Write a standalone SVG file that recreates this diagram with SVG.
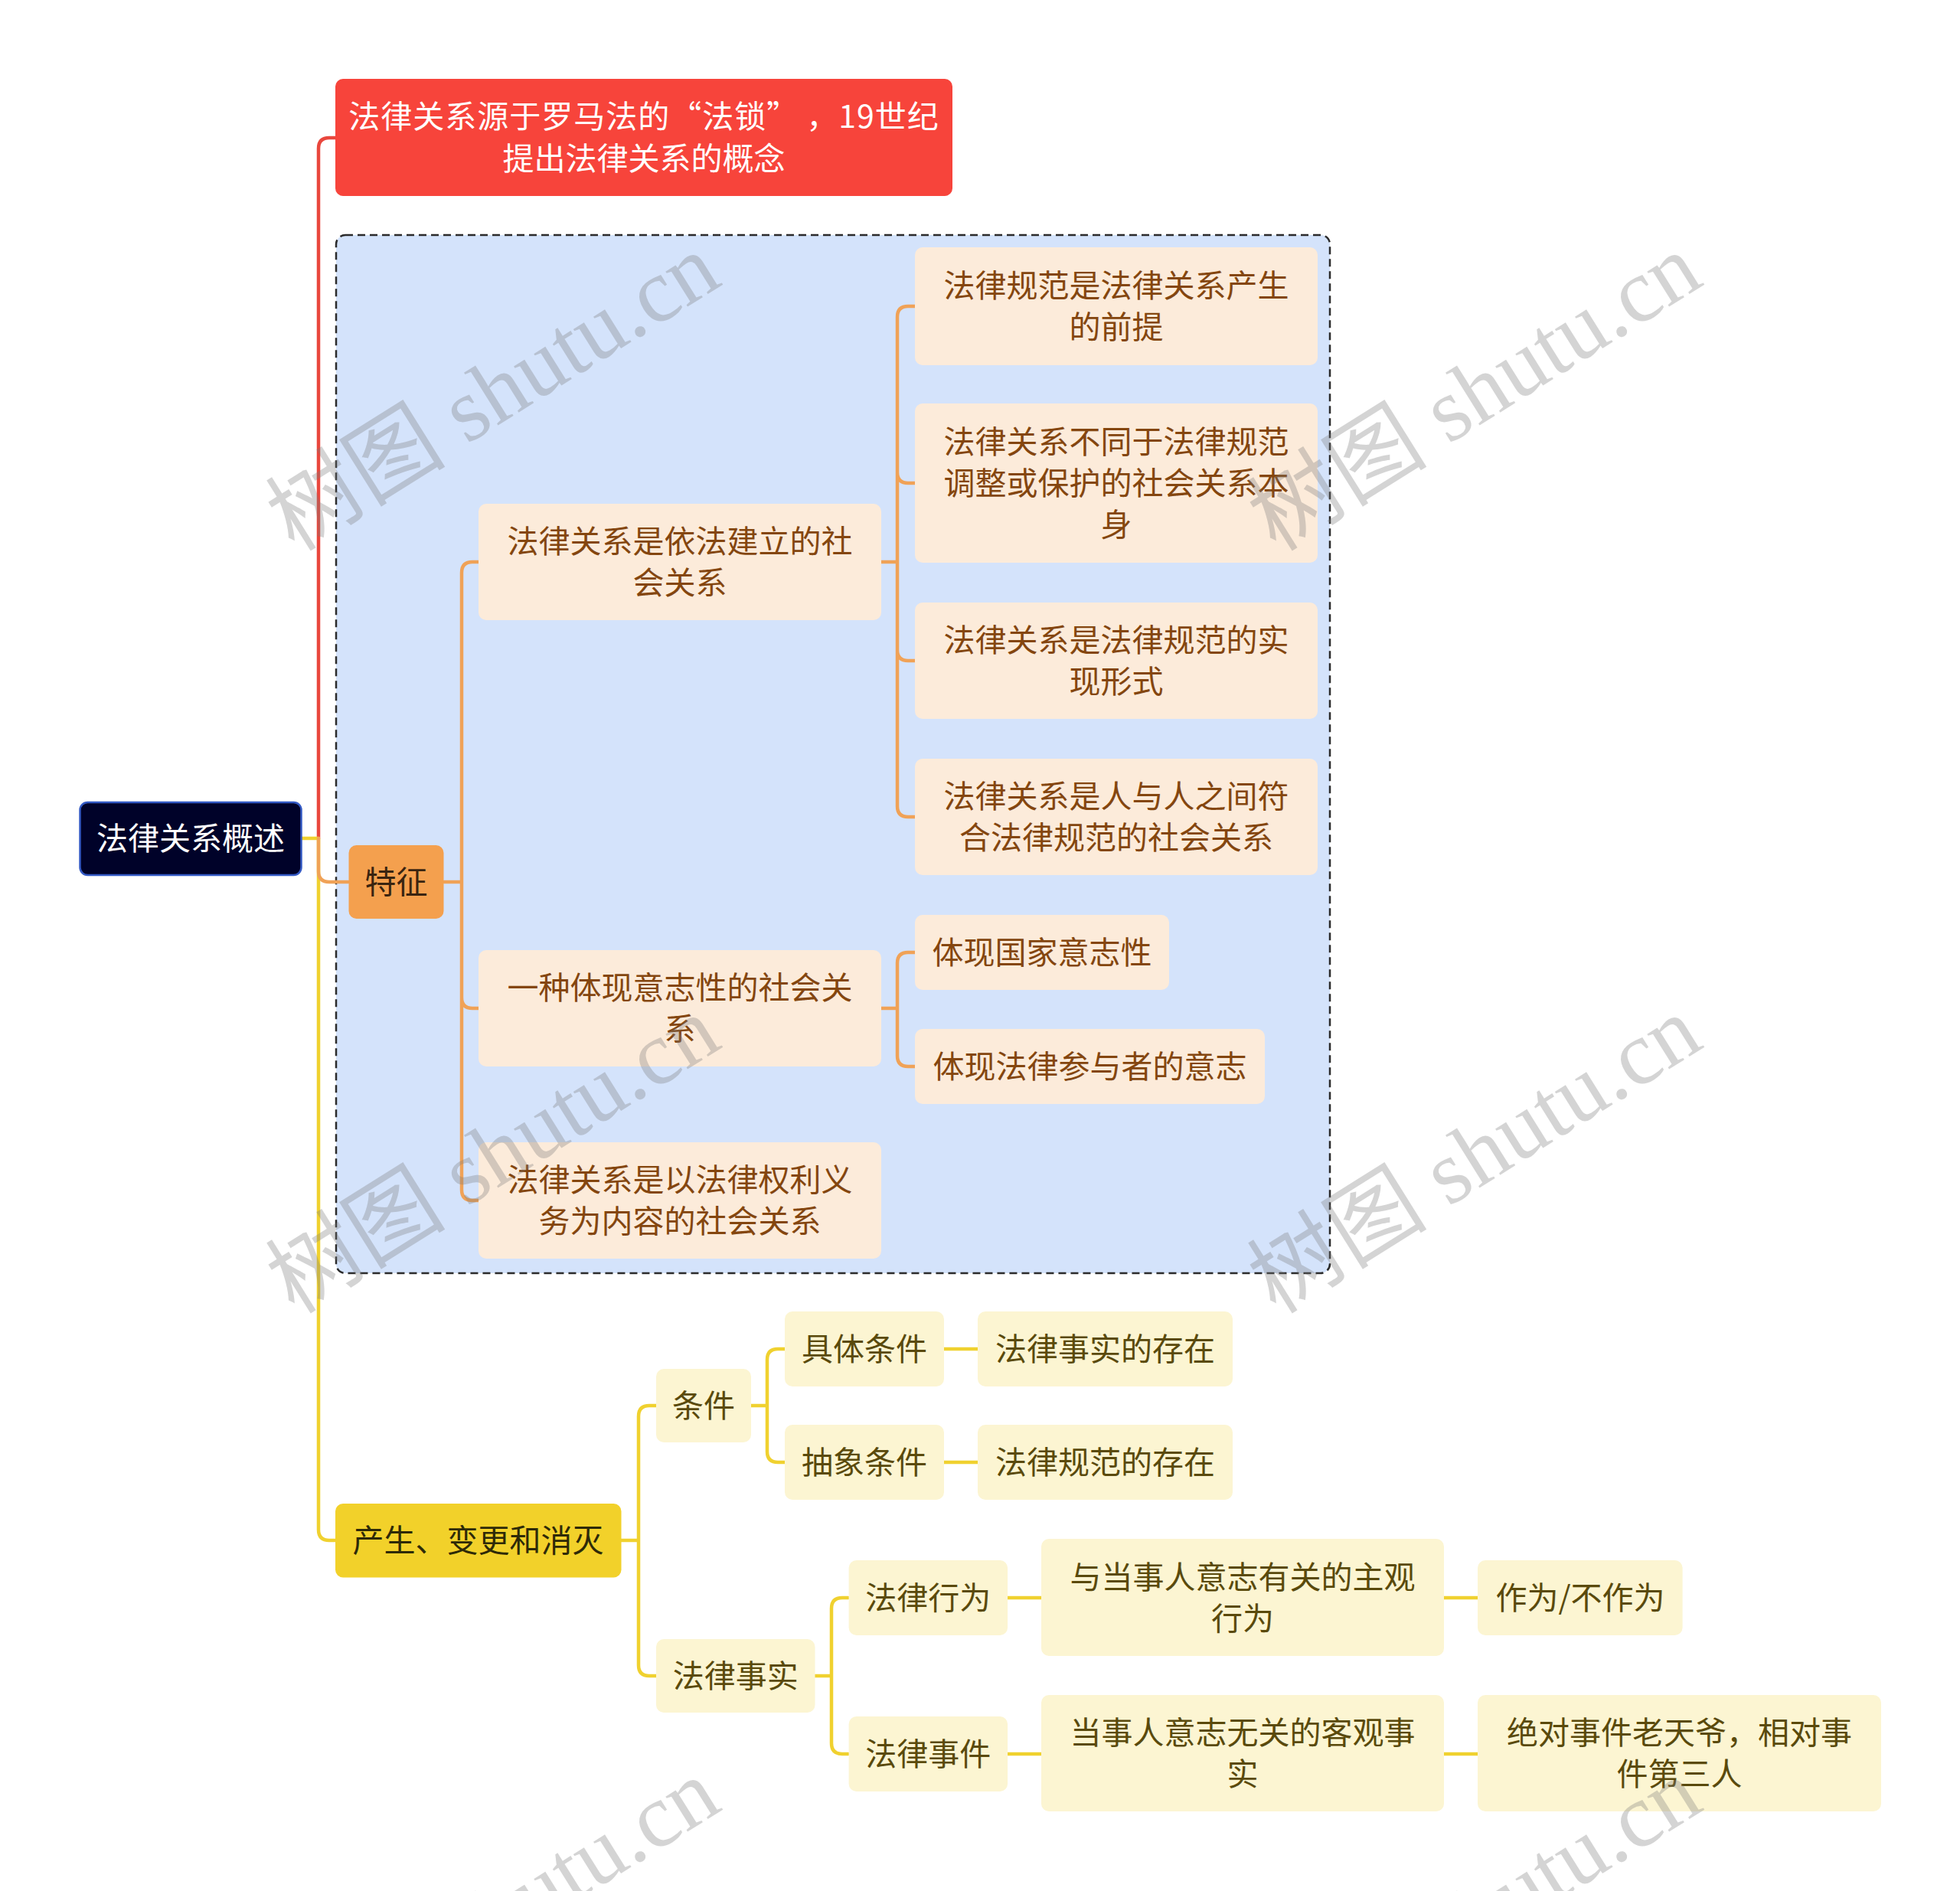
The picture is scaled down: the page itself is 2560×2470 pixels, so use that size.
<svg xmlns="http://www.w3.org/2000/svg" width="2560" height="2470" viewBox="0 0 2560 2470">
<defs>
<style>
.t{font-family:"Noto Sans CJK SC","Liberation Sans",sans-serif;font-size:41px;text-anchor:middle}
.peach{fill:#FCEBDA}
.pt{fill:#84460F}
.pale{fill:#FCF5D2}
.yt{fill:#5A4A0C}
.cn{fill:none;stroke-width:4.5;stroke-linecap:round;stroke-linejoin:round}
.red{stroke:#E9473D}
.org{stroke:#F0A257}
.yel{stroke:#F0D12F}
.wm{font-family:"Liberation Serif","Noto Sans CJK SC",serif;font-size:118px;fill:#7a7a7a;fill-opacity:0.32;text-anchor:middle}
</style>
</defs>
<rect width="2560" height="2470" fill="#ffffff"/>
<g id="group-features">
<rect x="439" y="307" width="1298" height="1356" rx="12" fill="#D4E3FB" stroke="#2b2b2b" stroke-width="2.5" stroke-dasharray="10 6"/>
</g>
<g id="connectors">
<path class="cn red" d="M416,1095 V194 Q416,180 430,180 H438"/>
<path class="cn yel" d="M393,1095 H416 M416,1095 V1998 Q416,2012 430,2012 H438"/>
<path class="cn org" d="M416,1095 V1138 Q416,1152 430,1152 H455"/>
<path class="cn org" d="M580,1152 H603 M603,1152 V748 Q603,734 617,734 H625 M603,1152 V1303 Q603,1317 617,1317 H625 M603,1152 V1554 Q603,1568 617,1568 H625"/>
<path class="cn org" d="M1151,734 H1172 M1172,734 V414 Q1172,400 1186,400 H1195 M1172,734 V617 Q1172,631 1186,631 H1195 M1172,734 V849 Q1172,863 1186,863 H1195 M1172,734 V1053 Q1172,1067 1186,1067 H1195"/>
<path class="cn org" d="M1151,1317 H1172 M1172,1317 V1258 Q1172,1244 1186,1244 H1195 M1172,1317 V1379 Q1172,1393 1186,1393 H1195"/>
<path class="cn yel" d="M811,2012 H834 M834,2012 V1850 Q834,1836 848,1836 H857 M834,2012 V2175 Q834,2189 848,2189 H857"/>
<path class="cn yel" d="M981,1836 H1002 M1002,1836 V1776 Q1002,1762 1016,1762 H1025 M1002,1836 V1896 Q1002,1910 1016,1910 H1025"/>
<path class="cn yel" d="M1233,1762 H1277 M1233,1910 H1277"/>
<path class="cn yel" d="M1064,2189 H1086 M1086,2189 V2101 Q1086,2087 1100,2087 H1108 M1086,2189 V2277 Q1086,2291 1100,2291 H1108"/>
<path class="cn yel" d="M1316,2087 H1360 M1316,2291 H1360 M1886,2087 H1930 M1886,2291 H1930"/>
</g>
<g id="root">
<rect x="104.5" y="1048" width="289" height="95" rx="10" fill="#000229" stroke="#3359C4" stroke-width="2.5"/>
<text class="t" x="249" y="1110" fill="#ffffff">法律关系概述</text>
</g>
<g id="origin">
<rect x="438" y="103" width="806" height="153" rx="10" fill="#F7443B"/>
<text class="t" x="841" y="167" fill="#ffffff" letter-spacing="1">法律关系源于罗马法的“法锁” ，19世纪</text>
<text class="t" x="841" y="222" fill="#ffffff">提出法律关系的概念</text>
</g>
<g id="features">
<rect x="455.5" y="1104" width="124" height="96" rx="10" fill="#F4A04E"/>
<text class="t" x="517.5" y="1167" fill="#3A2410">特征</text>
</g>
<g id="f-a">
<rect class="peach" x="625" y="658" width="526" height="152" rx="10"/>
<text class="t pt" x="888" y="722">法律关系是依法建立的社</text>
<text class="t pt" x="888" y="776">会关系</text>
</g>
<g id="f-a1">
<rect class="peach" x="1195" y="323" width="526" height="154" rx="10"/>
<text class="t pt" x="1458" y="388">法律规范是法律关系产生</text>
<text class="t pt" x="1458" y="442">的前提</text>
</g>
<g id="f-a2">
<rect class="peach" x="1195" y="527" width="526" height="208" rx="10"/>
<text class="t pt" x="1458" y="592">法律关系不同于法律规范</text>
<text class="t pt" x="1458" y="646">调整或保护的社会关系本</text>
<text class="t pt" x="1458" y="700">身</text>
</g>
<g id="f-a3">
<rect class="peach" x="1195" y="787" width="526" height="152" rx="10"/>
<text class="t pt" x="1458" y="851">法律关系是法律规范的实</text>
<text class="t pt" x="1458" y="905">现形式</text>
</g>
<g id="f-a4">
<rect class="peach" x="1195" y="991" width="526" height="152" rx="10"/>
<text class="t pt" x="1458" y="1055">法律关系是人与人之间符</text>
<text class="t pt" x="1458" y="1109">合法律规范的社会关系</text>
</g>
<g id="f-b">
<rect class="peach" x="625" y="1241" width="526" height="152" rx="10"/>
<text class="t pt" x="888" y="1305">一种体现意志性的社会关</text>
<text class="t pt" x="888" y="1359">系</text>
</g>
<g id="f-b1">
<rect class="peach" x="1195" y="1195" width="332" height="98" rx="10"/>
<text class="t pt" x="1361" y="1259">体现国家意志性</text>
</g>
<g id="f-b2">
<rect class="peach" x="1195" y="1344" width="457" height="98" rx="10"/>
<text class="t pt" x="1423.5" y="1408">体现法律参与者的意志</text>
</g>
<g id="f-c">
<rect class="peach" x="625" y="1492" width="526" height="152" rx="10"/>
<text class="t pt" x="888" y="1556">法律关系是以法律权利义</text>
<text class="t pt" x="888" y="1610">务为内容的社会关系</text>
</g>
<g id="change">
<rect x="438" y="1964" width="373.5" height="96.5" rx="10" fill="#F2D12A"/>
<text class="t" x="624.5" y="2027" fill="#2E2A08">产生、变更和消灭</text>
</g>
<g id="cond">
<rect class="pale" x="857" y="1788" width="124" height="96" rx="10"/>
<text class="t yt" x="919" y="1851">条件</text>
</g>
<g id="cond-concrete">
<rect class="pale" x="1025" y="1713" width="208" height="98" rx="10"/>
<text class="t yt" x="1129" y="1777">具体条件</text>
</g>
<g id="cond-concrete-1">
<rect class="pale" x="1277" y="1713" width="333" height="98" rx="10"/>
<text class="t yt" x="1443.5" y="1777">法律事实的存在</text>
</g>
<g id="cond-abstract">
<rect class="pale" x="1025" y="1861" width="208" height="98" rx="10"/>
<text class="t yt" x="1129" y="1925">抽象条件</text>
</g>
<g id="cond-abstract-1">
<rect class="pale" x="1277" y="1861" width="333" height="98" rx="10"/>
<text class="t yt" x="1443.5" y="1925">法律规范的存在</text>
</g>
<g id="fact">
<rect class="pale" x="857" y="2141" width="207.5" height="96" rx="10"/>
<text class="t yt" x="960.7" y="2204">法律事实</text>
</g>
<g id="act">
<rect class="pale" x="1108.6" y="2038" width="207.5" height="98" rx="10"/>
<text class="t yt" x="1212.3" y="2102">法律行为</text>
</g>
<g id="act-1">
<rect class="pale" x="1360" y="2010" width="526" height="153" rx="10"/>
<text class="t yt" x="1623" y="2075">与当事人意志有关的主观</text>
<text class="t yt" x="1623" y="2129">行为</text>
</g>
<g id="act-2">
<rect class="pale" x="1930" y="2038" width="267.6" height="98" rx="10"/>
<text class="t yt" x="2064" y="2102">作为/不作为</text>
</g>
<g id="event">
<rect class="pale" x="1108.6" y="2242" width="207.5" height="98" rx="10"/>
<text class="t yt" x="1212.3" y="2306">法律事件</text>
</g>
<g id="event-1">
<rect class="pale" x="1360" y="2214" width="526" height="152" rx="10"/>
<text class="t yt" x="1623" y="2278">当事人意志无关的客观事</text>
<text class="t yt" x="1623" y="2332">实</text>
</g>
<g id="event-2">
<rect class="pale" x="1930" y="2214" width="527" height="152" rx="10"/>
<text class="t yt" x="2193.5" y="2278">绝对事件老天爷，相对事</text>
<text class="t yt" x="2193.5" y="2332">件第三人</text>
</g>
<g id="watermarks">
<text class="wm" transform="translate(645,514) rotate(-32)" y="38">树图 shutu.cn</text>
<text class="wm" transform="translate(1927,514) rotate(-32)" y="38">树图 shutu.cn</text>
<text class="wm" transform="translate(645,1510) rotate(-32)" y="38">树图 shutu.cn</text>
<text class="wm" transform="translate(1927,1510) rotate(-32)" y="38">树图 shutu.cn</text>
<text class="wm" transform="translate(645,2506) rotate(-32)" y="38">树图 shutu.cn</text>
<text class="wm" transform="translate(1927,2506) rotate(-32)" y="38">树图 shutu.cn</text>
</g>
</svg>
